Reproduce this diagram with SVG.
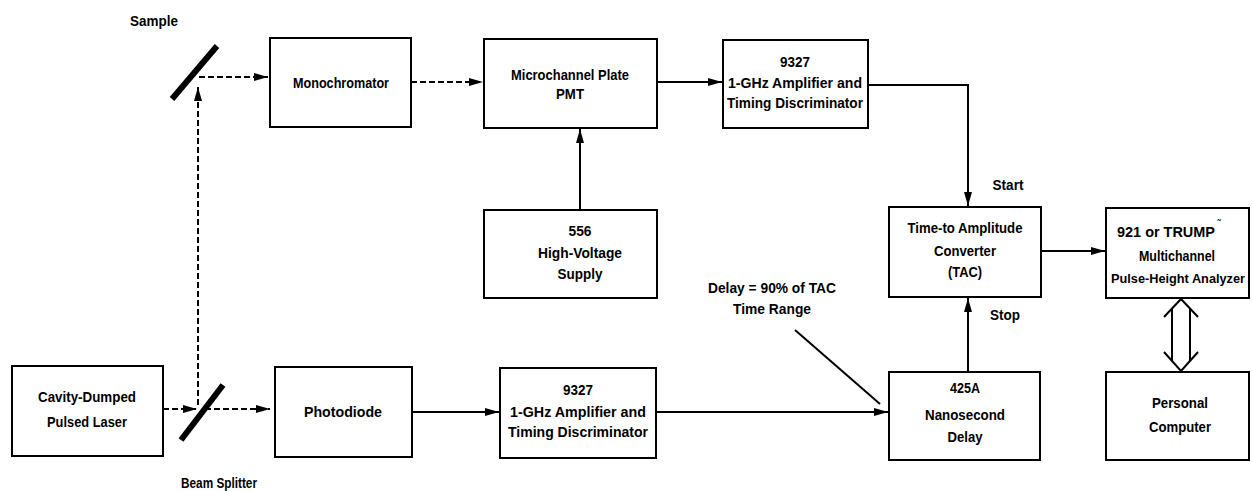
<svg xmlns="http://www.w3.org/2000/svg" width="1252" height="491" viewBox="0 0 1252 491">
<defs>
<marker id="ah" viewBox="0 0 14 10" refX="14" refY="5" markerWidth="14" markerHeight="10" markerUnits="userSpaceOnUse" orient="auto">
<path d="M0,1 L14,5 L0,9 z" fill="#000"/>
</marker>
<style>
.box{fill:#fff;stroke:#000;stroke-width:2}
text{font-family:"Liberation Sans",Arial,sans-serif;font-weight:bold;font-size:15px;fill:#000;text-anchor:middle}
.sol{stroke:#000;stroke-width:2;fill:none}
.dash{stroke:#000;stroke-width:2;fill:none;stroke-dasharray:6,3}
.mir{stroke:#000;stroke-width:6;stroke-linecap:butt}
</style>
</defs>
<rect width="1252" height="491" fill="#fff"/>
<g id="mirror-sample"><line class="mir" x1="172" y1="99" x2="217" y2="46"/></g>
<g id="mirror-splitter"><line class="mir" x1="181" y1="440" x2="223" y2="385"/></g>
<g id="labels">
<text x="154" y="26" textLength="48" lengthAdjust="spacingAndGlyphs">Sample</text>
<text x="219" y="488" textLength="76" lengthAdjust="spacingAndGlyphs">Beam Splitter</text>
<text x="772" y="293" textLength="128" lengthAdjust="spacingAndGlyphs">Delay = 90% of TAC</text>
<text x="772" y="314" textLength="78" lengthAdjust="spacingAndGlyphs">Time Range</text>
<text x="1008" y="190" textLength="31" lengthAdjust="spacingAndGlyphs">Start</text>
<text x="1005" y="320" textLength="30" lengthAdjust="spacingAndGlyphs">Stop</text>
</g>
<g id="connectors">
<path class="dash" d="M163,409 H197" marker-end="url(#ah)"/>
<path class="dash" d="M205,409 H270" marker-end="url(#ah)"/>
<path class="dash" d="M198,405 V87" marker-end="url(#ah)"/>
<path class="dash" d="M199,77 H268" marker-end="url(#ah)"/>
<path class="dash" d="M411,82 H483" marker-end="url(#ah)"/>
<path class="sol" d="M657,82 H722" marker-end="url(#ah)"/>
<path class="sol" d="M580,210 V129" marker-end="url(#ah)"/>
<path class="sol" d="M868,85 H968 V206" marker-end="url(#ah)"/>
<path class="sol" d="M968,372 V298" marker-end="url(#ah)"/>
<path class="sol" d="M1041,251 H1105" marker-end="url(#ah)"/>
<path class="sol" d="M412,412 H499" marker-end="url(#ah)"/>
<path class="sol" d="M656,412 H888" marker-end="url(#ah)"/>
<path class="sol" stroke-width="1.6" d="M795,330 L880,404"/>
<path class="sol" stroke-width="1.5" d="M1181,299 L1164,317 M1181,299 L1198,317 M1172,308 V361 M1190,308 V361 M1164,352 L1181,371 L1198,352"/>
</g>
<g id="laser"><rect class="box" x="12" y="366" width="151" height="90"/><text x="87" y="402" textLength="98" lengthAdjust="spacingAndGlyphs">Cavity-Dumped</text><text x="87" y="427" textLength="80" lengthAdjust="spacingAndGlyphs">Pulsed Laser</text></g>
<g id="monochromator"><rect class="box" x="270" y="38" width="141" height="89"/><text x="341" y="88" textLength="96" lengthAdjust="spacingAndGlyphs">Monochromator</text></g>
<g id="pmt"><rect class="box" x="484" y="39" width="173" height="89"/><text x="570" y="80" textLength="118" lengthAdjust="spacingAndGlyphs">Microchannel  Plate</text><text x="570" y="99" textLength="28" lengthAdjust="spacingAndGlyphs">PMT</text></g>
<g id="amp-top"><rect class="box" x="723" y="40" width="145" height="88"/><text x="795" y="67" textLength="30" lengthAdjust="spacingAndGlyphs">9327</text><text x="795" y="88" textLength="134" lengthAdjust="spacingAndGlyphs">1-GHz Amplifier and</text><text x="795" y="108" textLength="136" lengthAdjust="spacingAndGlyphs">Timing Discriminator</text></g>
<g id="hv"><rect class="box" x="484" y="210" width="173" height="88"/><text x="580" y="236" textLength="23" lengthAdjust="spacingAndGlyphs">556</text><text x="580" y="258" textLength="84" lengthAdjust="spacingAndGlyphs">High-Voltage</text><text x="580" y="279" textLength="45" lengthAdjust="spacingAndGlyphs">Supply</text></g>
<g id="tac"><rect class="box" x="889" y="207" width="152" height="90"/><text x="965" y="233" textLength="115" lengthAdjust="spacingAndGlyphs">Time-to Amplitude</text><text x="965" y="256" textLength="62" lengthAdjust="spacingAndGlyphs">Converter</text><text x="965" y="277" textLength="34" lengthAdjust="spacingAndGlyphs">(TAC)</text></g>
<g id="mca"><rect class="box" x="1106" y="208" width="143" height="90"/><text x="1166" y="237" textLength="98" lengthAdjust="spacingAndGlyphs">921 or TRUMP</text><text x="1219" y="226" style="font-size:9px">˜</text><text x="1177" y="261" textLength="76" lengthAdjust="spacingAndGlyphs">Multichannel</text><text x="1178" y="283" style="font-size:13px" textLength="134" lengthAdjust="spacingAndGlyphs">Pulse-Height Analyzer</text></g>
<g id="pc"><rect class="box" x="1106" y="372" width="143" height="88"/><text x="1180" y="408" textLength="56" lengthAdjust="spacingAndGlyphs">Personal</text><text x="1180" y="432" textLength="62" lengthAdjust="spacingAndGlyphs">Computer</text></g>
<g id="delay"><rect class="box" x="889" y="372" width="151" height="88"/><text x="965" y="393" textLength="30" lengthAdjust="spacingAndGlyphs">425A</text><text x="965" y="420" textLength="80" lengthAdjust="spacingAndGlyphs">Nanosecond</text><text x="965" y="442" textLength="35" lengthAdjust="spacingAndGlyphs">Delay</text></g>
<g id="photodiode"><rect class="box" x="275" y="367" width="137" height="90"/><text x="343" y="417" textLength="78" lengthAdjust="spacingAndGlyphs">Photodiode</text></g>
<g id="amp-bottom"><rect class="box" x="500" y="368" width="156" height="90"/><text x="578" y="395" textLength="30" lengthAdjust="spacingAndGlyphs">9327</text><text x="578" y="417" textLength="136" lengthAdjust="spacingAndGlyphs">1-GHz Amplifier and</text><text x="578" y="437" textLength="140" lengthAdjust="spacingAndGlyphs">Timing Discriminator</text></g>
</svg>
